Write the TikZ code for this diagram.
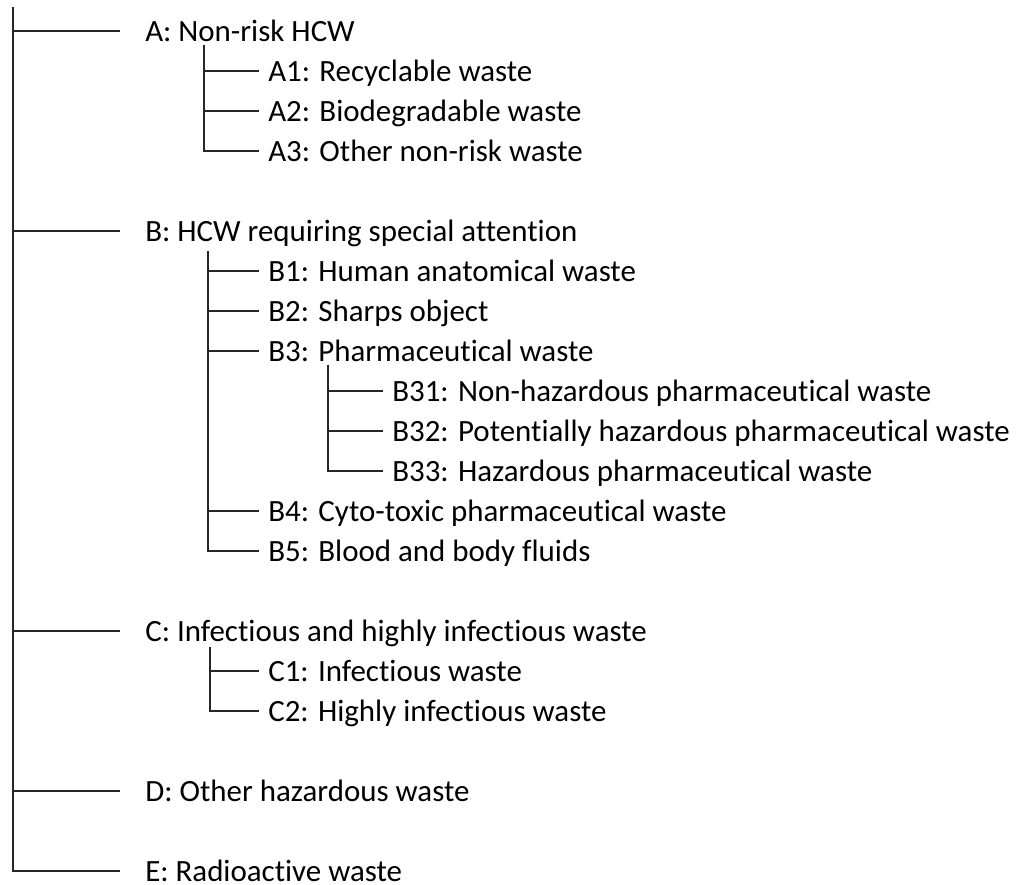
\documentclass[tikz,border=0pt]{standalone}
\usepackage{fontspec}
\setmainfont{Carlito}[Ligatures=NoCommon]
\usetikzlibrary{calc}

\begin{document}
\begin{tikzpicture}[
    x=0.75pt, y=-0.75pt,
    cat/.style={anchor=base west, inner sep=0pt, text height=15pt, text depth=0pt, font=\fontsize{23.2}{28}\selectfont},
    branch/.style={draw=black!85, line width=1.2pt},
    leaf/.style={branch, shorten >=7pt}
]
\useasboundingbox (0,0) rectangle (1022,885);

% Categories, one row every 40px
\foreach \name/\x/\row/\txt in {
    A/145/0/{A: Non-risk HCW},
    A1/268/1/{A1: Recyclable waste},
    A2/268/2/{A2: Biodegradable waste},
    A3/268/3/{A3: Other non-risk waste},
    B/145/5/{B: HCW requiring special attention},
    B1/268/6/{B1: Human anatomical waste},
    B2/268/7/{B2: Sharps object},
    B3/268/8/{B3: Pharmaceutical waste},
    B31/392/9/{B31: Non-hazardous pharmaceutical waste},
    B32/392/10/{B32: Potentially hazardous pharmaceutical waste},
    B33/392/11/{B33: Hazardous pharmaceutical waste},
    B4/268/12/{B4: Cyto-toxic pharmaceutical waste},
    B5/268/13/{B5: Blood and body fluids},
    C/145/15/{C: Infectious and highly infectious waste},
    C1/268/16/{C1: Infectious waste},
    C2/268/17/{C2: Highly infectious waste},
    D/145/19/{D: Other hazardous waste},
    E/145/21/{E: Radioactive waste}}
    \node[cat] (\name) at (\x,{41+40*\row}) {\txt};

% Main trunk
\coordinate (root) at (13,7);
\draw[branch, shorten >=18.75pt] (root) |- (E);
\foreach \n in {A,B,C,D}
    \draw[branch, shorten >=18.75pt] (root |- \n) -- (\n);

% A branch
\coordinate (Atop) at ($(A.base west)+(59,4)$);
\draw[leaf] (Atop) |- (A3);
\foreach \n in {A1,A2}
    \draw[leaf] (Atop |- \n) -- (\n);

% B branch
\coordinate (Btop) at ($(B.base west)+(63,10)$);
\draw[leaf] (Btop) |- (B5);
\foreach \n in {B1,B2,B3,B4}
    \draw[leaf] (Btop |- \n) -- (\n);

% B3 sub-branch
\coordinate (B3top) at ($(B3.base west)+(60,4)$);
\draw[leaf] (B3top) |- (B33);
\foreach \n in {B31,B32}
    \draw[leaf] (B3top |- \n) -- (\n);

% C branch
\coordinate (Ctop) at ($(C.base west)+(65,6)$);
\draw[leaf] (Ctop) |- (C2);
\draw[leaf] (Ctop |- C1) -- (C1);

\end{tikzpicture}
\end{document}
